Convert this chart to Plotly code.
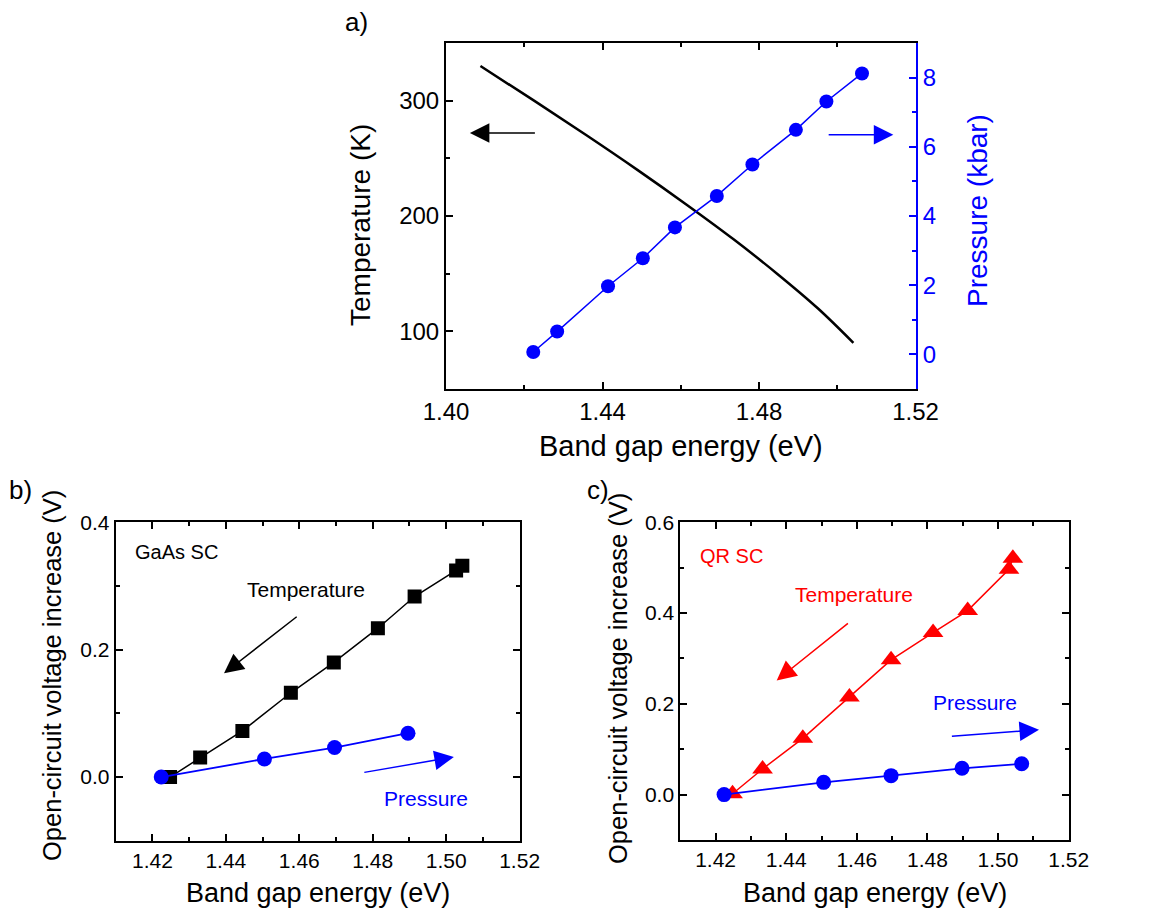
import plotly.graph_objects as go

# ---------------- data ----------------
# Panel a: temperature vs band gap (black curve), pressure vs band gap (blue)
a_temp_E = [1.4088, 1.4225, 1.4359, 1.4489, 1.4614, 1.4734, 1.4846, 1.4950, 1.5041]
a_temp_T = [330, 300, 270, 240, 210, 180, 150, 120, 90]
a_pres_E = [1.4223, 1.4284, 1.4414, 1.4503, 1.4585, 1.4692, 1.4783, 1.4894, 1.4972, 1.5063]
a_pres_P = [0.07, 0.66, 1.97, 2.78, 3.67, 4.58, 5.49, 6.49, 7.31, 8.12]

# Panel b: GaAs SC
b_temp_E = [1.4248, 1.4330, 1.4445, 1.4577, 1.4694, 1.4814, 1.4914, 1.5027, 1.5044]
b_temp_V = [0.0, 0.0306, 0.0724, 0.1323, 0.180, 0.2337, 0.2835, 0.3244, 0.3318]
b_pres_E = [1.4224, 1.4505, 1.4696, 1.4896]
b_pres_V = [0.0, 0.0284, 0.0463, 0.0688]

# Panel c: QR SC
c_temp_E = [1.4248, 1.4333, 1.4447, 1.4579, 1.4697, 1.4816, 1.4914, 1.5031, 1.5042]
c_temp_V = [0.002, 0.0565, 0.124, 0.215, 0.297, 0.357, 0.4055, 0.4966, 0.5208]
c_pres_E = [1.4224, 1.4506, 1.4697, 1.4898, 1.5067]
c_pres_V = [0.0, 0.027, 0.0418, 0.058, 0.068]

BLUE = "#0000FF"
RED = "#FF0000"
BLACK = "#000000"
FONT = "Liberation Sans, Arial, sans-serif"

# page has an 8px body margin: figure sized to fit inside the 1152x913 window
OFF = 8
W, H = 1152 - OFF, 913 - OFF
def px(x):
    return (x - OFF) / W
def py(y):
    return 1 - (y - OFF) / H

fig = go.Figure()

# Panel a
fig.add_trace(go.Scatter(x=a_temp_E, y=a_temp_T, mode="lines", line=dict(color=BLACK, width=2.5, shape="spline"),
                         xaxis="x", yaxis="y", showlegend=False))
fig.add_trace(go.Scatter(x=a_pres_E, y=a_pres_P, mode="lines+markers", line=dict(color=BLUE, width=1.5),
                         marker=dict(color=BLUE, size=14, symbol="circle"),
                         xaxis="x", yaxis="y2", showlegend=False))
# Panel b
fig.add_trace(go.Scatter(x=b_temp_E, y=b_temp_V, mode="lines+markers", line=dict(color=BLACK, width=1.5),
                         marker=dict(color=BLACK, size=14, symbol="square"),
                         xaxis="x2", yaxis="y3", showlegend=False))
fig.add_trace(go.Scatter(x=b_pres_E, y=b_pres_V, mode="lines+markers", line=dict(color=BLUE, width=1.8),
                         marker=dict(color=BLUE, size=15, symbol="circle"),
                         xaxis="x2", yaxis="y3", showlegend=False))
# Panel c
fig.add_trace(go.Scatter(x=c_temp_E, y=c_temp_V, mode="lines+markers", line=dict(color=RED, width=1.5),
                         marker=dict(color=RED, size=18, symbol="triangle-up"),
                         xaxis="x3", yaxis="y4", showlegend=False))
fig.add_trace(go.Scatter(x=c_pres_E, y=c_pres_V, mode="lines+markers", line=dict(color=BLUE, width=1.8),
                         marker=dict(color=BLUE, size=15, symbol="circle"),
                         xaxis="x3", yaxis="y4", showlegend=False))

def axis(domain, rng, dtick, tick0, minor_dtick, fmt, size, anchor, color=BLACK, mirror="ticks", side=None, overlaying=None):
    d = dict(domain=domain, range=rng, dtick=dtick, tick0=tick0, tickformat=fmt,
             showline=True, linecolor=color, linewidth=2, mirror=mirror,
             ticks="inside", ticklen=7, tickwidth=1.5, tickcolor=color,
             minor=dict(dtick=minor_dtick, ticks="inside", ticklen=4, tickwidth=1.5, tickcolor=color),
             showgrid=False, zeroline=False, anchor=anchor, automargin=False,
             tickfont=dict(family=FONT, size=size, color=color))
    if side:
        d["side"] = side
    if overlaying:
        d["overlaying"] = overlaying
        d.pop("domain")
    return d

layout = dict(
    width=W, height=H, margin=dict(l=0, r=0, t=0, b=0, pad=0, autoexpand=False),
    paper_bgcolor="white", plot_bgcolor="white",
    font=dict(family=FONT, color=BLACK),
    xaxis=axis([px(446), px(916)], [1.40, 1.5201], 0.04, 1.40, 0.02, ".2f", 24, "y"),
    yaxis=axis([py(389), py(43)], [50, 350], 100, 0, 50, "d", 24, "x", mirror=False),
    yaxis2=axis(None, [-1, 9], 2, 0, 1, "d", 24, "x", color=BLUE, mirror=False, side="right", overlaying="y"),
    xaxis2=axis([px(115.7), px(520)], [1.41, 1.5201], 0.02, 1.42, 0.01, ".2f", 21, "y3"),
    yaxis3=axis([py(840.7), py(522.3)], [-0.1, 0.4], 0.2, 0, 0.1, ".1f", 21, "x2"),
    xaxis3=axis([px(680.3), px(1069)], [1.41, 1.5201], 0.02, 1.42, 0.01, ".2f", 21, "y4"),
    yaxis4=axis([py(840), py(522.3)], [-0.1, 0.6], 0.2, 0, 0.1, ".1f", 21, "x3"),
)
fig.update_layout(**layout)

ann = []
def text(x, y, s, size, color=BLACK, angle=0, xref="paper", yref="paper", xanchor="center"):
    ann.append(dict(x=x, y=y, xref=xref, yref=yref, text=s, showarrow=False, textangle=angle,
                    xanchor=xanchor, yanchor="middle", font=dict(family=FONT, size=size, color=color)))

# panel labels
text(px(356), py(22), "a)", 26)
text(px(20), py(490), "b)", 26)
text(px(598), py(490), "c)", 26)

# axis titles
text(px(681), py(446), "Band gap energy (eV)", 29)
text(px(360), py(225), "Temperature (K)", 28, angle=-90)
text(px(978), py(211), "Pressure (kbar)", 28, color=BLUE, angle=-90)
text(px(318), py(893), "Band gap energy (eV)", 27)
text(px(52), py(676), "Open-circuit voltage increase (V)", 25.5, angle=-90)
text(px(875), py(893), "Band gap energy (eV)", 27)
text(px(618), py(679), "Open-circuit voltage increase (V)", 25.5, angle=-90)

# in-plot labels
text(1.4148, 0.354, "GaAs SC", 20, xref="x2", yref="y3", xanchor="left")
text(1.4617, 0.294, "Temperature", 21, xref="x2", yref="y3")
text(1.4944, -0.034, "Pressure", 21, color=BLUE, xref="x2", yref="y3")
text(1.4151, 0.5255, "QR SC", 20, color=RED, xref="x3", yref="y4", xanchor="left")
text(1.4591, 0.44, "Temperature", 21, color=RED, xref="x3", yref="y4")
text(1.4936, 0.204, "Pressure", 21, color=BLUE, xref="x3", yref="y4")

def arrow(x0, y0, x1, y1, xr, yr, color):
    ann.append(dict(x=x1, y=y1, ax=x0, ay=y0, xref=xr, yref=yr, axref=xr, ayref=yr,
                    text="", showarrow=True, arrowhead=2, arrowsize=2.6, arrowwidth=1.5,
                    arrowcolor=color, standoff=0, startstandoff=0))

arrow(1.4231, 272, 1.4061, 272, "x", "y", BLACK)
arrow(1.4974, 6.35, 1.5143, 6.35, "x", "y2", BLUE)
arrow(1.4597, 0.2535, 1.4395, 0.1628, "x2", "y3", BLACK)
arrow(1.4773, 0.0069, 1.5021, 0.0315, "x2", "y3", BLUE)
arrow(1.4579, 0.380, 1.4373, 0.2516, "x3", "y4", RED)
arrow(1.4865, 0.1283, 1.5116, 0.1430, "x3", "y4", BLUE)

fig.update_layout(annotations=ann)
fig.write_html("out.html")
